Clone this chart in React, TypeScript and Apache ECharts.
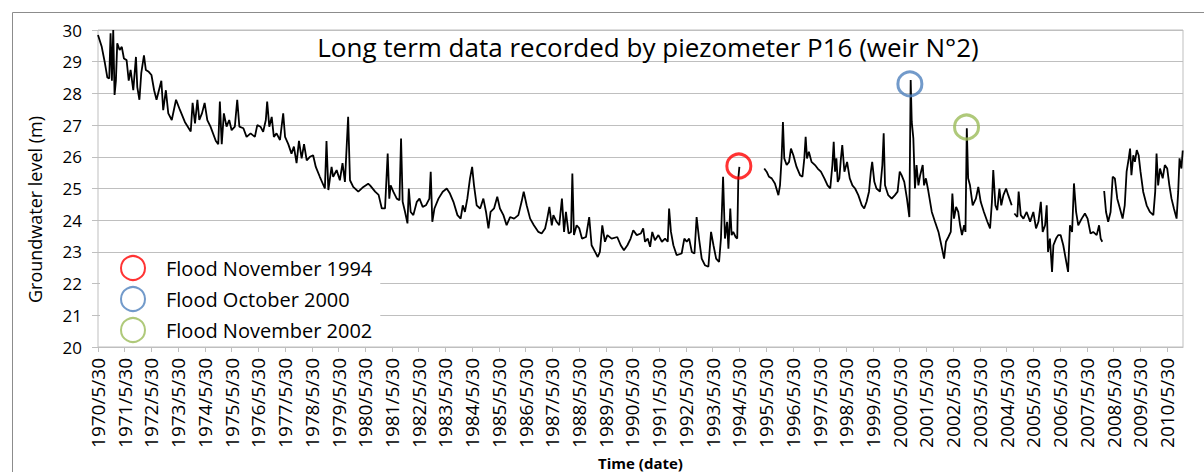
import React, { useEffect, useRef } from "react";
import * as echarts from "echarts";

// Years elapsed since 1970/5/30 (x) and groundwater level in m (y); null = gap in record
const years: number[] = [
  0, 0.14, 0.26, 0.35, 0.42, 0.47, 0.52, 0.57, 0.62, 0.67, 0.72, 0.81, 0.89, 0.97, 1.07, 1.15, 1.22, 1.32, 1.42, 1.47,
  1.55, 1.62, 1.72, 1.79, 1.9, 2.0, 2.1, 2.19, 2.37, 2.44, 2.54, 2.63, 2.76, 2.92, 3.07, 3.25, 3.47, 3.54, 3.63, 3.72,
  3.79, 3.89, 3.99, 4.09, 4.21, 4.41, 4.5, 4.56, 4.63, 4.71, 4.81, 4.91, 5.0, 5.12, 5.21, 5.29, 5.44, 5.56, 5.71, 5.87,
  5.96, 6.08, 6.18, 6.28, 6.33, 6.41, 6.5, 6.58, 6.68, 6.81, 6.93, 7.0, 7.12, 7.24, 7.33, 7.43, 7.52, 7.62, 7.71, 7.81,
  7.93, 8.05, 8.15, 8.3, 8.49, 8.55, 8.62, 8.74, 8.8, 8.93, 9.05, 9.15, 9.24, 9.36, 9.43, 9.55, 9.74, 9.93, 10.11, 10.18,
  10.37, 10.5, 10.62, 10.74, 10.84, 10.9, 10.95, 11.05, 11.18, 11.28, 11.34, 11.4, 11.49, 11.58, 11.63, 11.7, 11.8, 11.93, 12.03, 12.15,
  12.27, 12.4, 12.45, 12.51, 12.59, 12.74, 12.9, 13.05, 13.17, 13.3, 13.45, 13.57, 13.65, 13.73, 13.82, 13.92, 14.0, 14.07, 14.17, 14.3,
  14.42, 14.52, 14.61, 14.69, 14.82, 14.94, 15.04, 15.17, 15.29, 15.42, 15.57, 15.73, 15.85, 15.93, 16.04, 16.17, 16.31, 16.48, 16.6, 16.73,
  16.81, 16.89, 16.98, 17.04, 17.16, 17.26, 17.36, 17.44, 17.51, 17.61, 17.7, 17.75, 17.81, 17.91, 18.01, 18.11, 18.26, 18.38, 18.47, 18.6,
  18.7, 18.78, 18.87, 18.97, 19.06, 19.22, 19.43, 19.56, 19.68, 19.81, 19.93, 20.03, 20.16, 20.31, 20.4, 20.47, 20.57, 20.66, 20.74, 20.84,
  20.97, 21.1, 21.22, 21.32, 21.37, 21.44, 21.53, 21.65, 21.84, 21.94, 22.03, 22.12, 22.22, 22.32, 22.4, 22.49, 22.59, 22.71, 22.84, 22.94,
  23.03, 23.13, 23.24, 23.31, 23.39, 23.46, 23.54, 23.59, 23.66, 23.71, 23.77, 23.86, 23.92, 23.96, 24.0, 24.45, 24.93, 25.02, 25.11, 25.21,
  25.33, 25.46, 25.52, 25.58, 25.63, 25.68, 25.77, 25.86, 25.93, 26.02, 26.14, 26.27, 26.36, 26.43, 26.48, 26.53, 26.6, 26.7, 26.83, 26.93,
  27.05, 27.18, 27.3, 27.4, 27.48, 27.53, 27.58, 27.63, 27.68, 27.74, 27.8, 27.85, 27.93, 28.03, 28.13, 28.23, 28.33, 28.45, 28.58, 28.67,
  28.76, 28.85, 28.92, 28.97, 29.05, 29.13, 29.26, 29.35, 29.4, 29.45, 29.57, 29.7, 29.82, 29.92, 30.0, 30.07, 30.17, 30.27, 30.36, 30.41,
  30.45, 30.51, 30.57, 30.63, 30.7, 30.76, 30.86, 30.91, 30.98, 31.07, 31.2, 31.32, 31.45, 31.53, 31.66, 31.73, 31.82, 31.91, 31.97, 32.03,
  32.11, 32.19, 32.26, 32.33, 32.41, 32.46, 32.51, 32.56, 32.63, 32.73, 32.85, 32.94, 33.03, 33.15, 33.28, 33.38, 33.45, 33.5, 33.58, 33.65,
  33.73, 33.8, 33.88, 33.98, 34.06, 34.19, 34.24, 34.29, 34.4, 34.45, 34.53, 34.63, 34.75, 34.88, 35.0, 35.1, 35.19, 35.28, 35.35, 35.44,
  35.5, 35.55, 35.62, 35.7, 35.75, 35.85, 35.93, 36.02, 36.12, 36.21, 36.3, 36.37, 36.45, 36.52, 36.6, 36.68, 36.81, 36.93, 37.03, 37.14,
  37.24, 37.37, 37.46, 37.52, 37.58, 37.62, 37.65, 37.72, 37.8, 37.89, 37.97, 38.05, 38.14, 38.24, 38.34, 38.42, 38.49, 38.57, 38.62, 38.67,
  38.74, 38.8, 38.87, 38.94, 39.01, 39.11, 39.24, 39.36, 39.49, 39.56, 39.61, 39.67, 39.74, 39.84, 39.92, 40.01, 40.09, 40.17, 40.26, 40.36,
  40.42, 40.47, 40.54, 40.59,
];

const levels: (number | null)[] = [
  29.84, 29.47, 28.95, 28.5, 28.47, 29.9, 28.4, 30.0, 27.95, 28.4, 29.58, 29.37, 29.47, 29.1, 29.05, 28.4, 28.74, 28.1, 29.15, 28.2,
  27.8, 28.65, 29.2, 28.74, 28.68, 28.58, 28.1, 27.8, 28.4, 27.47, 28.1, 27.37, 27.16, 27.8, 27.47, 27.1, 26.8, 27.7, 27.05, 27.8,
  27.16, 27.37, 27.7, 27.16, 26.95, 26.5, 26.4, 27.74, 26.4, 27.37, 26.95, 27.16, 26.84, 26.95, 27.8, 26.95, 26.9, 26.63, 26.74, 26.63,
  27.0, 26.95, 26.79, 27.16, 27.74, 26.95, 27.26, 26.63, 26.74, 26.53, 27.37, 26.63, 26.4, 26.1, 26.32, 25.8, 26.5, 25.95, 26.4, 25.89,
  26.0, 26.05, 25.68, 25.37, 25.0, 26.5, 24.95, 25.68, 25.37, 25.58, 25.26, 25.8, 25.21, 27.26, 25.26, 25.05, 24.9, 25.05, 25.15, 25.1,
  24.9, 24.8, 24.37, 24.37, 26.1, 24.68, 25.1, 24.9, 24.68, 24.63, 26.58, 24.58, 24.26, 23.9, 25.0, 24.26, 24.16, 24.58, 24.68, 24.42,
  24.47, 24.68, 25.53, 23.95, 24.37, 24.68, 24.9, 25.0, 24.84, 24.58, 24.16, 24.05, 24.47, 24.26, 24.68, 25.32, 25.68, 25.1, 24.47, 24.37,
  24.68, 24.26, 23.74, 24.26, 24.37, 24.74, 24.37, 24.16, 23.84, 24.1, 24.05, 24.16, 24.58, 24.9, 24.47, 24.05, 23.84, 23.63, 23.58, 23.74,
  24.05, 24.42, 23.84, 24.16, 23.95, 23.84, 24.68, 23.63, 24.26, 23.58, 23.63, 25.47, 23.53, 23.84, 23.74, 23.42, 23.47, 24.1, 23.21, 23.0,
  22.84, 23.0, 23.84, 23.32, 23.53, 23.42, 23.47, 23.21, 23.05, 23.21, 23.42, 23.68, 23.53, 23.58, 23.74, 23.32, 23.42, 23.16, 23.63, 23.37,
  23.53, 23.32, 23.42, 23.32, 24.37, 23.63, 23.21, 22.9, 22.95, 23.42, 23.32, 23.42, 23.0, 22.95, 24.1, 23.42, 22.79, 22.58, 22.53, 23.63,
  23.21, 22.79, 22.68, 23.42, 25.37, 23.42, 23.95, 23.1, 24.37, 23.53, 23.63, 23.47, 23.42, 25.32, 25.68, null, 25.63, 25.53, 25.37, 25.32,
  25.16, 24.79, 25.1, 25.95, 27.1, 25.95, 25.74, 25.84, 26.26, 26.05, 25.68, 25.42, 25.37, 25.95, 26.63, 25.95, 26.16, 25.84, 25.74, 25.63,
  25.53, 25.32, 25.1, 25.0, 25.74, 26.47, 25.53, 25.95, 25.21, 25.32, 25.95, 26.37, 25.53, 25.84, 25.32, 25.1, 25.0, 24.79, 24.47, 24.37,
  24.58, 24.9, 25.53, 25.84, 25.21, 25.0, 24.9, 25.74, 26.74, 25.1, 24.79, 24.68, 24.79, 24.9, 25.53, 25.42, 25.21, 24.68, 24.1, 28.42,
  27.1, 26.58, 25.0, 25.74, 25.1, 25.4, 25.74, 25.1, 25.32, 24.92, 24.26, 23.95, 23.63, 23.32, 22.79, 23.32, 23.47, 23.63, 24.84, 24.05,
  24.42, 24.26, 23.84, 23.53, 23.84, 23.63, 26.9, 25.32, 25.1, 24.47, 24.68, 25.05, 24.58, 24.26, 23.95, 23.74, 24.58, 25.58, 24.47, 24.32,
  25.0, 24.47, 24.79, 25.0, 24.79, 24.47, null, 24.21, 24.1, 24.9, 24.16, 24.05, 24.26, 23.95, 24.26, 23.74, 23.95, 24.58, 23.63, 23.84,
  24.47, 23.0, 23.42, 22.37, 23.21, 23.42, 23.53, 23.53, 23.21, 22.79, 22.37, 23.84, 23.63, 25.16, 24.26, 23.84, 24.05, 24.21, 24.05, 23.58,
  23.63, 23.53, 23.84, 23.42, 23.32, null, 24.92, 24.26, 23.95, 24.26, 25.37, 25.32, 24.68, 24.37, 24.05, 24.47, 25.53, 25.95, 26.26, 25.42,
  26.05, 25.84, 26.21, 26.05, 25.53, 24.9, 24.47, 24.26, 24.16, 24.9, 26.1, 25.1, 25.63, 25.32, 25.74, 25.63, 25.1, 24.68, 24.37, 24.05,
  24.9, 25.95, 25.63, 26.2,
];

// Flood events: [years since 1970/5/30, level]
const floodNames: string[] = ["Flood November 1994", "Flood October 2000", "Flood November 2002"];
const floodYears: number[] = [23.98, 30.38, 32.5];
const floodLevels: number[] = [25.71, 28.3, 26.94];
const floodColors: string[] = ["#ff0000", "#4f81bd", "#9bbb59"];

const startYear = 1970;
const FONT = "'Open Sans', 'Noto Sans', sans-serif";

export default function App() {
  const ref = useRef<HTMLDivElement>(null);
  useEffect(() => {
    if (!ref.current) return;
    const chart = echarts.init(ref.current, undefined, { renderer: "svg" });
    const lineData = years.map((t, i) => [t, levels[i]]);
    const floodSeries = floodNames.map((name, i) => ({
      name,
      type: "scatter",
      data: [[floodYears[i], floodLevels[i]]],
      symbol: "circle",
      symbolSize: 24,
      itemStyle: { color: "rgba(255,255,255,0)", borderColor: floodColors[i], borderWidth: 3 },
      z: 5,
    }));
    chart.setOption({
      animation: false,
      textStyle: { fontFamily: FONT },
      title: {
        text: "Long term data recorded by piezometer P16 (weir N°2)",
        left: 643,
        textAlign: "center",
        top: 29,
        textStyle: { fontSize: 26, fontWeight: "normal", color: "#000", fontFamily: FONT },
      },
      legend: {
        orient: "vertical",
        left: 100,
        top: 253,
        padding: [2, 8, 2, 20],
        backgroundColor: "#fff",
        itemWidth: 24,
        itemHeight: 24,
        itemGap: 5,
        textStyle: { fontSize: 20, color: "#000", fontFamily: FONT, padding: [0, 0, 0, 16] },
        data: floodNames,
      },
      grid: {
        left: 98,
        top: 30,
        right: 21,
        bottom: 125,
        outerBoundsMode: "none",
        containLabel: false,
        show: true,
        borderColor: "#bfbfbf",
        borderWidth: 1,
      },
      xAxis: {
        type: "value",
        min: 0,
        max: 40.6,
        interval: 1,
        name: "Time (date)",
        nameLocation: "middle",
        nameGap: 98,
        nameTextStyle: { fontSize: 15, fontWeight: "bold", color: "#000", fontFamily: FONT },
        axisLine: { show: true, lineStyle: { color: "#bfbfbf" } },
        axisTick: { show: true, length: 5, lineStyle: { color: "#bfbfbf" } },
        splitLine: { show: false },
        axisLabel: {
          rotate: 90,
          fontSize: 19,
          color: "#000",
          margin: 11,
          showMaxLabel: false,
          formatter: (v: number) => `${startYear + Math.round(v)}/5/30`,
        },
      },
      yAxis: {
        type: "value",
        min: 20,
        max: 30,
        interval: 1,
        name: "Groundwater level (m)",
        nameLocation: "middle",
        nameGap: 54,
        nameTextStyle: { fontSize: 18, color: "#000", fontFamily: FONT, padding: [0, 42, 0, 0] },
        axisLine: { show: false },
        axisTick: { show: true, length: 6, lineStyle: { color: "#bfbfbf" } },
        splitLine: { show: true, lineStyle: { color: "#bfbfbf", width: 1 } },
        axisLabel: { fontSize: 17, color: "#000", margin: 16 },
      },
      graphic: [
        {
          type: "rect",
          left: 10,
          top: 10,
          shape: { x: 0, y: 0, width: 1230, height: 500 },
          style: { fill: "none", stroke: "#8c8c8c", lineWidth: 1 },
          silent: true,
        },
      ],
      series: [
        {
          name: "P16",
          type: "line",
          data: lineData,
          showSymbol: false,
          connectNulls: false,
          lineStyle: { color: "#000", width: 1.8 },
          z: 3,
        },
        ...floodSeries,
      ],
    });
    return () => chart.dispose();
  }, []);
  return (
    <div
      ref={ref}
      style={{ position: "fixed", left: 0, top: 0, width: 1204, height: 472, background: "#fff" }}
    />
  );
}
